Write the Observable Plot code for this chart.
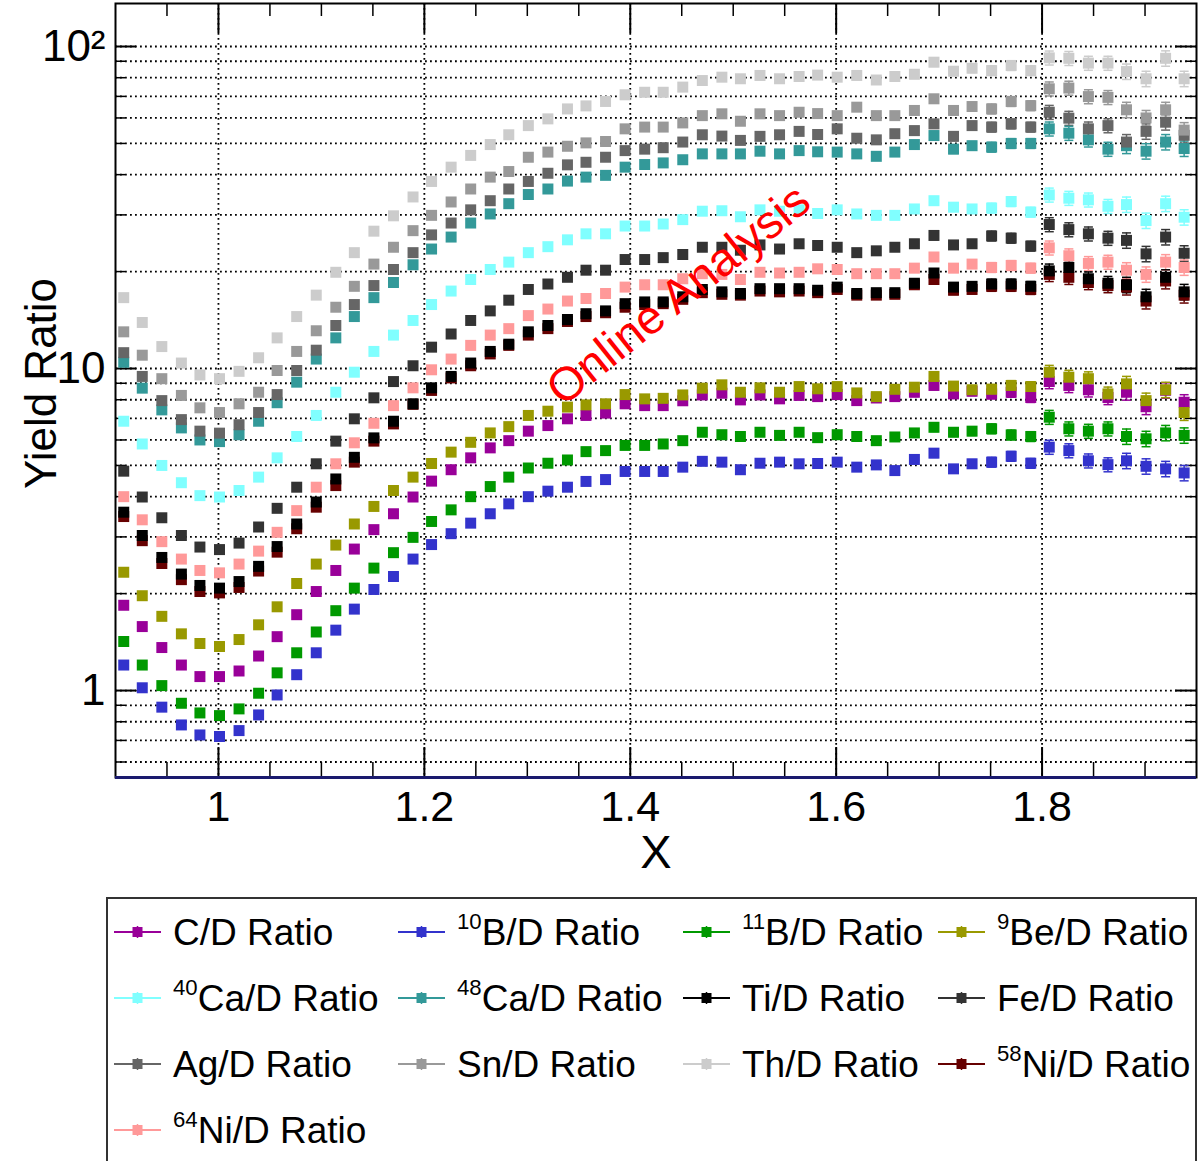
<!DOCTYPE html>
<html><head><meta charset="utf-8">
<script src="https://cdn.jsdelivr.net/npm/d3@7"></script>
<script src="https://cdn.jsdelivr.net/npm/@observablehq/plot@0.6"></script>
<style>
body{margin:0;background:#fff;font-family:"Liberation Sans",Arial,Helvetica,sans-serif;}
#wrap{position:relative;width:1204px;height:1161px;overflow:hidden;background:#fff;}
#chart{position:absolute;left:0;top:0;}
#legend{position:absolute;left:106px;top:897px;width:1091px;height:300px;border:2px solid #333;box-sizing:border-box;}
.item{position:absolute;height:40px;display:flex;align-items:center;font-size:37px;white-space:nowrap;color:#000;line-height:1;}
.item svg{margin-right:12px;flex:none;}
.sup{font-size:0.6em;position:relative;top:-0.72em;}
</style></head><body>
<div id="wrap"><div id="chart"></div><div id="legend"></div></div>
<script>
// ---- data ----
const xValues = [0.908,0.926,0.945,0.964,0.982,1.001,1.020,1.039,1.057,1.076,
1.095,1.114,1.132,1.151,1.170,1.189,1.207,1.226,1.245,1.264,
1.282,1.301,1.320,1.339,1.357,1.376,1.395,1.414,1.432,1.451,
1.470,1.489,1.507,1.526,1.545,1.564,1.582,1.601,1.620,1.639,
1.657,1.676,1.695,1.714,1.732,1.751,1.770,1.789,1.807,1.826,
1.845,1.864,1.882,1.901,1.920,1.938];

const relErr = [0.01,0.01,0.01,0.01,0.01,0.01,0.01,0.01,0.01,0.01,
0.01,0.01,0.01,0.01,0.01,0.01,0.01,0.01,0.01,0.01,
0.01,0.01,0.01,0.01,0.01,0.012,0.012,0.012,0.012,0.012,
0.015,0.015,0.015,0.015,0.015,0.015,0.02,0.02,0.02,0.02,
0.02,0.03,0.03,0.03,0.03,0.035,0.035,0.035,0.05,0.05,
0.05,0.05,0.055,0.055,0.055,0.055];

const cRatio = [1.84,1.58,1.36,1.2,1.105,1.105,1.15,1.28,1.47,1.72,
2.03,2.36,2.75,3.16,3.54,3.99,4.47,4.85,5.28,5.67,
5.97,6.39,6.65,6.98,7.15,7.27,7.77,7.67,7.67,7.94,
8.28,8.38,7.99,8.28,8.05,8.25,8.18,8.3,7.95,8.1,
8.18,8.44,8.86,8.34,8.5,8.34,8.44,8.13,9.11,8.86,
8.59,8.13,8.44,7.61,8.56,7.86];
const b10Ratio = [1.2,1.02,0.888,0.782,0.728,0.72,0.751,0.84,0.969,1.12,
1.31,1.54,1.79,2.06,2.26,2.56,2.84,3.07,3.31,3.54,
3.8,4.0,4.16,4.28,4.46,4.52,4.79,4.79,4.79,4.94,
5.15,5.12,4.85,5.08,5.12,5.06,5.07,5.12,4.94,5.02,
4.82,5.22,5.46,4.88,5.06,5.12,5.34,5.08,5.7,5.56,
5.17,5.03,5.17,4.97,4.88,4.74];
const b11Ratio = [1.42,1.2,1.036,0.913,0.852,0.836,0.877,0.981,1.135,1.31,
1.52,1.77,2.08,2.40,2.68,2.99,3.35,3.64,4.0,4.3,
4.6,4.91,5.08,5.2,5.52,5.56,5.77,5.77,5.83,5.97,
6.34,6.23,6.15,6.34,6.2,6.34,6.1,6.23,6.15,5.97,
6.13,6.31,6.57,6.34,6.39,6.5,6.22,6.15,7.06,6.5,
6.39,6.5,6.15,6.05,6.31,6.2];
const be9Ratio = [2.33,1.97,1.70,1.5,1.40,1.37,1.44,1.60,1.82,2.15,
2.47,2.83,3.29,3.73,4.18,4.6,5.07,5.5,5.9,6.31,
6.6,7.15,7.37,7.59,7.71,7.77,8.3,8.05,8.08,8.28,
8.69,8.9,8.44,8.71,8.44,8.79,8.65,8.79,8.4,8.18,
8.62,8.75,9.45,8.82,8.59,8.62,8.86,8.79,9.74,9.4,
9.3,8.34,8.96,7.95,8.59,7.3];
const ca40Ratio = [6.86,5.83,5.0,4.42,4.03,3.99,4.18,4.6,5.28,6.15,
7.15,8.44,9.74,11.3,12.7,14.1,15.8,17.4,18.9,20.3,
21.4,22.9,23.9,25.1,26.2,26.2,27.7,27.7,28.1,29.0,
30.8,30.9,29.6,31.1,30.8,31.1,30.3,31.1,30.2,29.9,
29.9,31.3,33.2,31.7,31.3,31.5,33.0,30.6,34.6,33.8,
33.4,31.9,32.3,28.8,32.5,29.5];
const ca48Ratio = [10.46,8.69,7.44,6.54,6.0,5.93,6.23,6.86,7.83,9.07,
10.7,12.45,14.5,16.6,18.5,21.0,23.5,25.6,28.3,30.2,
32.5,34.7,36.1,38.2,39.3,39.8,42.2,43.0,43.5,44.5,
46.4,46.4,46.4,47.3,46.4,47.5,47.1,47.0,46.4,45.6,
47.0,49.6,52.9,48.0,49.2,48.7,50.0,50.0,55.5,53.8,
51.3,48.0,49.2,47.3,50.5,48.2];
const tiRatio = [3.58,3.03,2.59,2.30,2.12,2.08,2.18,2.43,2.80,3.29,
3.85,4.54,5.30,6.09,6.86,7.77,8.71,9.45,10.4,11.3,
11.9,13.0,13.6,14.2,14.8,15.1,15.9,16.1,16.1,16.7,
17.6,17.3,17.1,17.7,17.7,17.7,17.5,17.9,17.1,17.2,
17.2,18.4,19.8,17.9,18.0,18.3,18.3,18.0,20.1,20.6,
19.0,18.4,18.2,16.7,19.2,17.3];
const feRatio = [4.8,3.99,3.44,3.03,2.79,2.74,2.87,3.22,3.68,4.28,
5.06,5.95,6.98,8.11,9.11,10.2,11.65,12.8,14.1,15.1,
16.3,17.6,18.3,19.2,20.2,20.2,21.8,21.8,22.1,22.6,
23.8,23.8,23.3,24.2,23.5,24.4,24.1,23.8,22.9,23.2,
23.8,24.4,25.9,24.2,24.4,25.8,25.4,24.0,28.0,27.0,
26.2,25.4,25.0,22.7,25.6,22.8];
const agRatio = [11.2,9.45,7.95,6.94,6.39,6.3,6.69,7.3,8.3,9.86,
11.4,13.6,15.8,18.1,20.3,22.9,26.0,28.3,31.1,33.2,
36.1,38.1,40.4,42.9,43.7,45.3,47.5,48.0,48.5,50.5,
53.2,52.7,51.1,52.6,53.2,54.5,53.3,55.5,51.9,51.3,
53.6,54.8,57.5,52.6,56.8,56.2,57.5,56.2,62.5,59.9,
55.5,56.8,50.5,54.5,58.2,53.0];
const snRatio = [13.0,11.0,9.3,8.25,7.55,7.3,7.77,8.44,9.86,11.3,
13.1,15.5,18.0,21.1,23.8,26.8,29.9,32.9,36.1,39.3,
40.9,45.3,47.0,49.0,50.2,50.7,55.5,56.2,56.2,57.9,
61.0,61.8,58.6,61.8,61.0,62.5,61.9,61.0,64.8,61.0,
61.0,63.3,68.8,63.3,65.1,64.0,67.5,65.5,73.9,74.3,
69.9,69.5,63.6,60.0,63.6,55.0];
const thRatio = [16.6,13.9,11.7,10.4,9.55,9.3,9.8,10.8,12.45,14.5,
16.9,19.9,22.9,26.7,29.8,34.1,38.1,42.2,45.9,49.6,
53.2,56.8,59.6,64.0,65.4,67.5,70.8,72.1,72.1,74.8,
78.4,80.3,79.4,81.3,79.4,80.7,81.5,80.3,81.3,78.7,
80.7,82.0,89.4,83.8,85.6,84.2,87.3,84.2,92.2,91.9,
88.8,88.8,83.6,79.4,91.9,79.4];
const ni58Ratio = [3.47,2.92,2.48,2.21,2.03,2.01,2.09,2.35,2.69,3.18,
3.71,4.33,5.12,5.95,6.73,7.74,8.55,9.35,10.2,11.1,
11.8,12.7,13.3,14.0,14.5,14.9,15.5,15.8,15.9,16.4,
17.2,17.0,16.9,17.4,17.3,17.4,17.2,17.6,16.9,16.9,
17.0,18.2,18.9,17.5,17.6,18.0,18.0,17.6,19.6,19.2,
18.5,18.1,17.9,16.2,18.7,16.9];
const ni64Ratio = [4.0,3.39,2.9,2.56,2.36,2.32,2.47,2.71,3.1,3.62,
4.28,5.06,5.88,6.76,7.67,8.71,9.91,10.7,11.8,12.7,
13.3,14.6,15.3,16.2,16.5,17.1,17.9,18.2,18.2,19.0,
19.7,19.6,18.9,19.9,19.8,19.9,20.4,20.3,19.7,19.7,
19.7,20.5,22.2,20.5,21.1,20.6,20.9,20.5,23.7,22.4,
21.2,21.4,20.2,19.6,21.4,20.6];

// legend order (row-major, 4 columns)
const seriesNames = ["C/D Ratio","10B/D Ratio","11B/D Ratio","9Be/D Ratio",
  "40Ca/D Ratio","48Ca/D Ratio","Ti/D Ratio","Fe/D Ratio",
  "Ag/D Ratio","Sn/D Ratio","Th/D Ratio","58Ni/D Ratio","64Ni/D Ratio"];
const seriesSup = ["","10","11","9","40","48","","","","","","58","64"];
const seriesLabel = ["C/D Ratio","B/D Ratio","B/D Ratio","Be/D Ratio","Ca/D Ratio","Ca/D Ratio",
  "Ti/D Ratio","Fe/D Ratio","Ag/D Ratio","Sn/D Ratio","Th/D Ratio","Ni/D Ratio","Ni/D Ratio"];
const seriesColors = ["#990099","#3333cc","#009900","#999900","#80ffff","#339999",
  "#000000","#333333","#666666","#999999","#cccccc","#660000","#ff9999"];
const seriesValues = [cRatio,b10Ratio,b11Ratio,be9Ratio,ca40Ratio,ca48Ratio,
  tiRatio,feRatio,agRatio,snRatio,thRatio,ni58Ratio,ni64Ratio];
// drawing order (58Ni drawn beneath Ti)
const drawOrder = [0,1,2,3,4,5,11,6,7,8,9,10,12];

const xMajor = [1,1.2,1.4,1.6,1.8];
const xMajorLabels = ["1","1.2","1.4","1.6","1.8"];
const xMinor = [0.95,1.05,1.1,1.15,1.25,1.3,1.35,1.45,1.5,1.55,1.65,1.7,1.75,1.85,1.9];
const yMajor = [1,10,100];
const yMajorLabels = ["1","10","10\u00b2"];
const yMinor = [0.6,0.7,0.8,0.9,2,3,4,5,6,7,8,9,20,30,40,50,60,70,80,90];
const xDomain = [0.9,1.95];
const yDomain = [0.537,136];
const annotations = [{label:"Online Analysis", x:1.447, y:16.9}];

// ---- build ----
const W=1204, H=890, mL=115, mR=8, mT=3, mB=113;
const fW=W-mL-mR, fH=H-mT-mB;
const rows=[];
drawOrder.forEach(k=>{
  seriesValues[k].forEach((v,i)=>{
    rows.push({s:seriesNames[k], color:seriesColors[k], x:xValues[i], y:v,
      lo:v*(1-relErr[i]), hi:v*(1+relErr[i])});
  });
});
const cap = {draw(ctx){ctx.moveTo(-4.5,0);ctx.lineTo(4.5,0);}};
const grid = {stroke:"#000", strokeWidth:1.8, strokeDasharray:"1.8,3.2"};

const chart = Plot.plot({
  width:W, height:H, marginLeft:mL, marginRight:mR, marginTop:mT, marginBottom:mB,
  x:{domain:xDomain, axis:null},
  y:{type:"log", domain:yDomain, axis:null},
  color:{type:"identity"},
  style:{fontFamily:"'Liberation Sans', Arial, Helvetica, sans-serif", background:"white", overflow:"visible", color:"#000"},
  marks:[
    Plot.ruleY(yMajor.concat(yMinor), grid),
    Plot.ruleX(xMajor, grid),
    // ticks (inside)
    Plot.ruleX(xMajor, {insetTop:fH-30, stroke:"#000", strokeWidth:2}),
    Plot.ruleX(xMinor, {insetTop:fH-15, stroke:"#000", strokeWidth:1.5}),
    Plot.ruleX(xMajor, {insetBottom:fH-30, stroke:"#000", strokeWidth:2}),
    Plot.ruleX(xMinor, {insetBottom:fH-13, stroke:"#000", strokeWidth:1.5}),
    Plot.ruleY(yMajor, {insetRight:fW-21, stroke:"#000", strokeWidth:2}),
    Plot.ruleY(yMinor, {insetRight:fW-10, stroke:"#000", strokeWidth:1.5}),
    Plot.ruleY(yMajor, {insetLeft:fW-21, stroke:"#000", strokeWidth:2}),
    Plot.ruleY(yMinor, {insetLeft:fW-10, stroke:"#000", strokeWidth:1.5}),
    // error bars
    Plot.ruleX(rows, {x:"x", y1:"lo", y2:"hi", stroke:"color", strokeWidth:1.5}),
    Plot.dot(rows, {x:"x", y:"lo", symbol:cap, stroke:"color", strokeWidth:1.5}),
    Plot.dot(rows, {x:"x", y:"hi", symbol:cap, stroke:"color", strokeWidth:1.5}),
    // markers
    Plot.dot(rows, {x:"x", y:"y", symbol:"square", r:6.2, fill:"color", stroke:"none"}),
    // watermark
    Plot.text(annotations, {x:"x", y:"y", text:"label", rotate:-38.7, fill:"#ff0000", fontSize:47, textAnchor:"middle", lineAnchor:"middle"}),
    // frame
    Plot.frame({stroke:"#000", strokeWidth:2}),
    Plot.ruleY([yDomain[0]], {stroke:"#1a1a6e", strokeWidth:3}),
    // tick labels
    Plot.text(xMajor, {x:d=>d, frameAnchor:"bottom", dy:13, textAnchor:"middle", lineAnchor:"top", text:(d,i)=>xMajorLabels[i], fontSize:43, fill:"#000"}),
    Plot.text(yMajor, {y:d=>d, frameAnchor:"left", dx:-10, textAnchor:"end", lineAnchor:"middle", text:(d,i)=>yMajorLabels[i], fontSize:44, fill:"#000"}),
    // axis titles
    Plot.text(["X"], {frameAnchor:"bottom", dy:75, textAnchor:"middle", lineAnchor:"middle", fontSize:47, fill:"#000"}),
    Plot.text(["Yield Ratio"], {frameAnchor:"left", dx:-74, dy:-7, rotate:-90, textAnchor:"middle", lineAnchor:"middle", fontSize:44, fill:"#000"})
  ]
});
document.getElementById("chart").appendChild(chart);

// ---- legend ----
const legend = document.getElementById("legend");
const colText = [173,457,742,997];
const rowCenter = [932,998,1064,1130];
seriesNames.forEach((name,k)=>{
  const r = Math.floor(k/4), c = k%4;
  const div = document.createElement("div");
  div.className = "item";
  div.style.left = (colText[c]-59-108)+"px";
  div.style.top = (rowCenter[r]-20-899)+"px";
  const col = seriesColors[k];
  div.innerHTML = `<svg width="47" height="16" viewBox="0 0 47 16"><line x1="0" y1="8" x2="47" y2="8" stroke="${col}" stroke-width="2"/><line x1="23.5" y1="2" x2="23.5" y2="14" stroke="${col}" stroke-width="1.5"/><rect x="18.5" y="3" width="10" height="10" fill="${col}"/></svg>` +
    `<span>${seriesSup[k] ? '<span class="sup">'+seriesSup[k]+'</span>' : ''}${seriesLabel[k]}</span>`;
  legend.appendChild(div);
});
</script>
</body></html>
